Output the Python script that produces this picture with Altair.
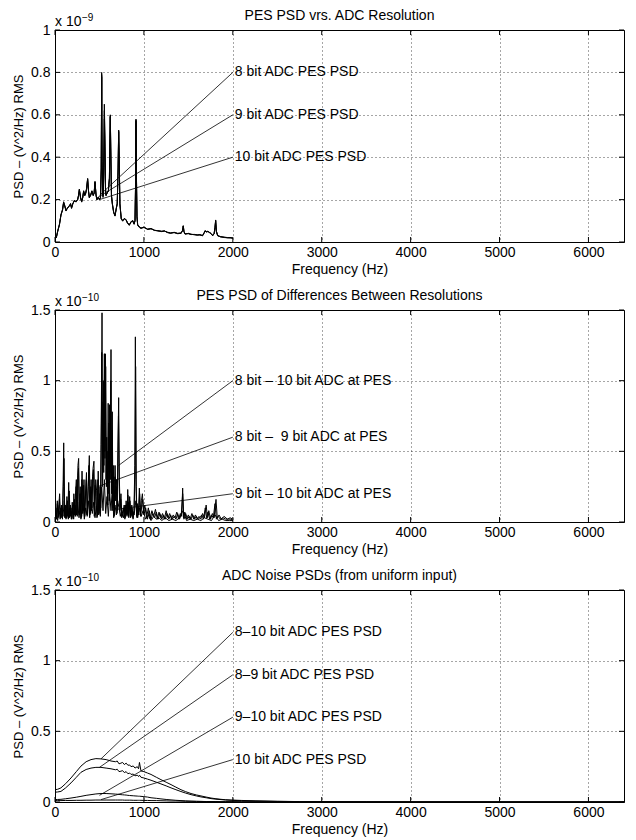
import altair as alt
import pandas as pd

FONT = "Liberation Sans"
FS = 14
W, H = 569, 212

# ---------------- Panel 1 : PES PSD vs ADC resolution (x 1e-9) ----------------
P1_FREQ = [
    0, 15, 30, 50, 67, 85, 97, 110, 124, 140,
    161, 175, 186, 200, 217, 235, 255, 265, 274, 287,
    300, 312, 322, 335, 345, 355, 367, 377, 386, 400,
    415, 430, 440, 450, 462, 472, 485, 500, 512, 520,
    525, 530, 540, 548, 555, 562, 568, 574, 585, 600,
    612, 618, 622, 627, 635, 645, 660, 675, 690, 700,
    710, 716, 722, 730, 745, 761, 780, 799, 815, 836,
    855, 874, 890, 900, 907, 911, 915, 922, 930, 950,
    967, 1000, 1042, 1080, 1120, 1155, 1200, 1230, 1267, 1300,
    1340, 1380, 1420, 1435, 1443, 1450, 1462, 1500, 1530, 1567,
    1600, 1630, 1660, 1680, 1687, 1700, 1720, 1736, 1755, 1773,
    1790, 1800, 1807, 1815, 1830, 1860, 1905, 1940, 1980, 2000]
P1_8BIT = [
    .030, .020, .050, .080, .130, .150, .190, .170, .148, .160,
    .170, .180, .160, .180, .195, .190, .200, .220, .250, .210,
    .190, .210, .240, .220, .230, .250, .300, .240, .210, .220,
    .240, .220, .230, .286, .220, .200, .210, .200, .210, .350,
    .800, .350, .210, .300, .580, .400, .240, .220, .230, .240,
    .300, .500, .600, .450, .220, .180, .140, .124, .160, .180,
    .350, .528, .400, .180, .110, .100, .110, .105, .090, .080,
    .095, .100, .085, .100, .300, .580, .350, .120, .080, .070,
    .065, .070, .060, .063, .055, .053, .050, .052, .045, .042,
    .045, .040, .042, .055, .077, .050, .038, .040, .036, .035,
    .033, .034, .030, .045, .053, .048, .050, .045, .040, .030,
    .040, .070, .104, .050, .030, .025, .022, .020, .020, .018]
P1_9BIT = [
    .032, .022, .048, .085, .125, .155, .185, .172, .150, .158,
    .172, .178, .162, .182, .192, .192, .198, .222, .245, .212,
    .192, .208, .238, .222, .228, .248, .295, .242, .212, .218,
    .238, .222, .228, .280, .222, .202, .208, .202, .212, .340,
    .780, .380, .220, .350, .650, .500, .260, .222, .228, .242,
    .300, .490, .590, .440, .222, .182, .142, .126, .158, .182,
    .340, .520, .390, .182, .112, .102, .108, .106, .092, .082,
    .093, .102, .087, .100, .290, .570, .340, .122, .082, .072,
    .066, .068, .061, .062, .056, .052, .051, .051, .046, .043,
    .044, .041, .043, .054, .075, .051, .039, .039, .037, .034,
    .034, .033, .031, .044, .052, .047, .049, .046, .039, .031,
    .041, .068, .100, .051, .031, .024, .023, .021, .019, .018]
P1_10BIT = [
    .028, .021, .052, .082, .128, .152, .188, .168, .146, .162,
    .168, .182, .158, .178, .197, .188, .202, .218, .248, .208,
    .188, .212, .242, .218, .232, .252, .298, .238, .208, .222,
    .242, .218, .232, .284, .218, .198, .212, .198, .208, .345,
    .790, .360, .215, .320, .620, .450, .250, .218, .232, .238,
    .302, .495, .595, .445, .218, .178, .138, .122, .162, .178,
    .345, .525, .395, .178, .108, .098, .112, .104, .088, .078,
    .097, .098, .083, .102, .295, .575, .345, .118, .078, .068,
    .064, .071, .059, .064, .054, .054, .049, .053, .044, .041,
    .046, .039, .041, .056, .076, .049, .037, .041, .035, .036,
    .032, .035, .029, .046, .054, .049, .051, .044, .041, .029,
    .039, .069, .102, .049, .029, .026, .021, .020, .021, .017]
P1_LABELS = ["8 bit ADC PES PSD", "9 bit ADC PES PSD", "10 bit ADC PES PSD"]
P1_LABEL_V = [0.8, 0.6, 0.4]
P1_PTR_F = [500, 480, 500]
P1_PTR_V = [0.22, 0.21, 0.20]
P1_YTICKS = [0, 0.2, 0.4, 0.6, 0.8, 1]

# ---------------- Panel 2 : differences between resolutions (x 1e-10) ----------------
P2A_FREQ = [
    0, 8, 16, 26, 34, 44, 52, 62, 72, 84,
    92, 98, 106, 116, 124, 134, 144, 154, 164, 174,
    184, 194, 204, 212, 222, 232, 240, 250, 258, 266,
    274, 284, 294, 304, 316, 326, 334, 344, 354, 364,
    374, 386, 396, 406, 416, 428, 438, 448, 458, 468,
    478, 486, 496, 506, 514, 522, 529, 536, 544, 550,
    556, 562, 568, 574, 582, 590, 598, 606, 612, 618,
    624, 630, 636, 644, 652, 660, 668, 676, 684, 692,
    700, 708, 716, 724, 732, 742, 752, 765, 778, 790,
    800, 812, 818, 828, 840, 852, 864, 876, 888, 898,
    904, 911, 918, 928, 938, 949, 960, 972, 983, 996,
    1010, 1030, 1050, 1070, 1090, 1110, 1130, 1150, 1170, 1190,
    1210, 1230, 1250, 1270, 1290, 1310, 1330, 1350, 1370, 1390,
    1410, 1425, 1436, 1445, 1460, 1480, 1500, 1520, 1540, 1560,
    1580, 1600, 1620, 1640, 1660, 1680, 1700, 1715, 1730, 1750,
    1770, 1790, 1800, 1811, 1825, 1845, 1870, 1900, 1940, 1970, 2000]
P2A_VAL = [
    .05, .13, .02, .15, .03, .12, .20, .03, .12, .02,
    .30, .56, .04, .12, .02, .18, .04, .28, .03, .12,
    .02, .14, .03, .20, .05, .22, .30, .04, .40, .45,
    .06, .25, .03, .36, .08, .30, .04, .20, .35, .05,
    .25, .47, .06, .30, .10, .38, .43, .05, .30, .22,
    .04, .36, .06, .25, .10, .70, 1.48, .30, 1.0, .40,
    1.19, .50, 1.19, .30, .60, .15, .84, .20, .83, .35,
    .60, 1.22, .25, .78, .10, .40, .05, .40, .20, .30,
    .08, .50, .88, .30, .10, .20, .04, .06, .12, .03,
    .15, .06, .23, .04, .18, .05, .12, .03, .08, .40,
    1.31, .30, .04, .13, .06, .24, .05, .15, .20, .06,
    .12, .03, .10, .02, .08, .04, .09, .02, .07, .03,
    .06, .02, .08, .03, .06, .02, .05, .03, .07, .02,
    .06, .04, .24, .03, .07, .02, .05, .02, .06, .02,
    .05, .02, .04, .02, .06, .03, .12, .03, .08, .02,
    .06, .03, .10, .16, .03, .05, .02, .04, .02, .03, .02]
P2B_FREQ = [
    0, 10, 20, 30, 40, 50, 58, 66, 76, 86,
    94, 101, 110, 120, 130, 140, 150, 160, 170, 180,
    190, 200, 210, 220, 230, 238, 246, 256, 264, 272,
    282, 292, 302, 312, 322, 332, 342, 352, 362, 372,
    382, 392, 402, 412, 422, 432, 442, 452, 462, 472,
    482, 492, 502, 510, 518, 526, 532, 540, 548, 556,
    562, 570, 578, 586, 594, 602, 610, 616, 622, 628,
    634, 642, 650, 658, 666, 674, 682, 690, 698, 706,
    714, 722, 730, 740, 750, 762, 774, 786, 798, 810,
    820, 830, 842, 854, 866, 878, 890, 900, 907, 914,
    922, 932, 942, 952, 964, 976, 988, 1000, 1020, 1040,
    1060, 1080, 1100, 1120, 1140, 1160, 1180, 1200, 1220, 1240,
    1260, 1280, 1300, 1320, 1340, 1360, 1380, 1400, 1420, 1436,
    1450, 1470, 1490, 1510, 1530, 1550, 1570, 1590, 1610, 1630,
    1650, 1670, 1690, 1705, 1720, 1740, 1760, 1780, 1800, 1815,
    1835, 1860, 1890, 1920, 1950, 1980, 2000]
P2B_VAL = [
    .03, .10, .02, .12, .04, .16, .02, .10, .03, .08,
    .25, .45, .03, .10, .03, .15, .03, .22, .04, .10,
    .02, .12, .04, .16, .04, .25, .05, .33, .38, .05,
    .20, .02, .30, .06, .26, .03, .18, .30, .04, .22,
    .40, .05, .25, .08, .32, .37, .04, .26, .18, .03,
    .30, .05, .20, .08, .55, 1.20, .25, .85, .35, 1.19,
    .45, 1.10, .25, .50, .12, .70, .15, .70, .30, 1.0,
    .20, .65, .08, .35, .04, .32, .15, .25, .06, .40,
    .75, .25, .08, .16, .03, .05, .10, .02, .12, .05,
    .19, .03, .15, .04, .10, .02, .07, .35, 1.10, .25,
    .03, .11, .05, .20, .04, .12, .16, .05, .10, .02,
    .08, .02, .06, .03, .07, .02, .06, .02, .05, .02,
    .06, .02, .05, .02, .04, .02, .06, .02, .05, .20,
    .02, .06, .02, .04, .02, .05, .02, .04, .02, .03,
    .05, .02, .10, .03, .07, .02, .05, .03, .13, .02,
    .04, .02, .03, .02, .02, .02, .01]
P2C_FREQ = [
    0, 15, 30, 45, 60, 75, 90, 105, 120, 135,
    150, 165, 180, 195, 210, 225, 240, 255, 270, 285,
    300, 315, 330, 345, 360, 375, 390, 405, 420, 435,
    450, 465, 480, 495, 510, 525, 540, 555, 570, 585,
    600, 615, 630, 645, 660, 675, 690, 705, 720, 735,
    750, 770, 790, 810, 830, 850, 870, 890, 910, 930,
    950, 970, 990, 1020, 1050, 1080, 1110, 1140, 1170, 1200,
    1240, 1280, 1320, 1360, 1400, 1440, 1480, 1520, 1560, 1600,
    1640, 1680, 1720, 1760, 1800, 1840, 1880, 1920, 1960, 2000]
P2C_VAL = [
    .02, .06, .01, .08, .03, .10, .04, .15, .03, .09,
    .02, .10, .04, .08, .02, .12, .05, .14, .03, .10,
    .04, .13, .02, .10, .05, .15, .03, .12, .06, .14,
    .03, .11, .05, .16, .04, .25, .08, .30, .06, .18,
    .04, .20, .08, .25, .03, .12, .05, .15, .10, .04,
    .10, .03, .12, .04, .14, .03, .08, .05, .15, .03,
    .10, .04, .08, .02, .05, .01, .04, .02, .03, .01,
    .03, .01, .02, .01, .03, .08, .01, .02, .01, .02,
    .01, .03, .02, .01, .05, .01, .02, .01, .01, .01]
P2_LABELS = ["8 bit \u2013 10 bit ADC at PES", "8 bit \u2013\u00a0 9 bit ADC at PES",
             "9 bit \u2013 10 bit ADC at PES"]
P2_LABEL_V = [1.0, 0.6, 0.2]
P2_PTR_F = [715, 480, 700]
P2_PTR_V = [0.40, 0.25, 0.09]
P2_YTICKS = [0, 0.5, 1, 1.5]

# ---------------- Panel 3 : ADC noise PSDs (x 1e-10) ----------------
P3_FREQ = [
    0, 30, 67, 120, 180, 240, 292, 350, 405, 460,
    517, 575, 630, 680, 700, 720, 742, 760, 780, 800,
    820, 840, 855, 880, 900, 925, 940, 950, 967, 1000,
    1040, 1080, 1140, 1192, 1250, 1305, 1360, 1417, 1470, 1530,
    1590, 1642, 1700, 1755, 1810, 1867, 1920, 1980, 2100, 2250,
    2500, 2750, 3000, 3500, 4000, 5000, 6400]
P3_8_10 = [
    .087, .090, .100, .130, .170, .215, .254, .285, .300, .307,
    .305, .300, .290, .285, .290, .270, .275, .280, .265, .275,
    .260, .262, .250, .255, .240, .250, .235, .280, .220, .215,
    .205, .195, .175, .158, .140, .123, .105, .087, .073, .060,
    .050, .043, .035, .028, .023, .019, .016, .014, .011, .008,
    .005, .003, .002, .001, .0005, .0003, .0002]
P3_8_9 = [
    .069, .071, .075, .100, .135, .175, .210, .230, .240, .245,
    .245, .240, .235, .228, .232, .215, .218, .222, .208, .215,
    .200, .205, .195, .198, .185, .190, .180, .190, .175, .170,
    .162, .154, .140, .128, .114, .100, .087, .074, .063, .052,
    .043, .036, .030, .024, .020, .017, .014, .012, .009, .007,
    .004, .003, .002, .001, .0005, .0003, .0002]
P3_9_10 = [
    .017, .018, .019, .023, .028, .034, .040, .047, .052, .057,
    .060, .060, .058, .056, .055, .054, .052, .051, .050, .049,
    .047, .046, .045, .044, .043, .042, .041, .041, .040, .038,
    .035, .030, .026, .022, .018, .015, .012, .010, .008, .006,
    .005, .004, .0035, .003, .0025, .002, .0018, .0015, .001, .0008,
    .0005, .0003, .0002, .0001, .0001, 0, 0]
P3_10 = [
    .010, .010, .010, .011, .011, .012, .012, .013, .013, .014,
    .014, .014, .014, .014, .014, .014, .014, .014, .013, .013,
    .013, .013, .013, .012, .012, .012, .012, .012, .012, .011,
    .011, .010, .010, .009, .008, .007, .007, .006, .005, .005,
    .004, .004, .003, .003, .003, .002, .002, .002, .001, .001,
    .001, .0005, .0003, .0002, .0001, 0, 0]
P3_LABELS = ["8\u201310 bit ADC PES PSD", "8\u20139 bit ADC PES PSD",
             "9\u201310 bit ADC PES PSD", "10 bit ADC PES PSD"]
P3_LABEL_V = [1.2, 0.9, 0.6, 0.3]
P3_PTR_F = [517, 500, 500, 517]
P3_PTR_V = [0.305, 0.245, 0.047, 0.017]
P3_YTICKS = [0, 0.5, 1, 1.5]

X_TICKS = [0, 1000, 2000, 3000, 4000, 5000, 6000]
LABEL_F = 2000
X_TITLE = "Frequency (Hz)"
Y_TITLE = "PSD \u2013 (V^2/Hz) RMS"


def panel(curves, title, ymax, yticks, exponent, labels, label_v, ptr_f, ptr_v):
    df = pd.concat([pd.DataFrame({"f": f, "v": v, "s": name}) for name, f, v in curves])
    xs = alt.Scale(domain=[0, 6400], nice=False, zero=False)
    ys = alt.Scale(domain=[0, ymax], nice=False, zero=False)
    # identical axis definitions in every layer so that they merge into one axis
    xa = alt.Axis(values=X_TICKS, format="d", title=X_TITLE, grid=True, ticks=False,
                  domain=False, labelFlush=False, labelPadding=3, titlePadding=3)
    ya = alt.Axis(values=yticks, format="~g", title=Y_TITLE, grid=True, ticks=False,
                  domain=False, labelPadding=5, titlePadding=5, titleFontSize=13)

    def X(field):
        return alt.X(field, scale=xs, axis=xa, title=X_TITLE)

    def Y(field):
        return alt.Y(field, scale=ys, axis=ya, title=Y_TITLE)

    lines = alt.Chart(df).mark_line(color="black", strokeWidth=1, clip=True).encode(
        x=X("f:Q"), y=Y("v:Q"), detail="s:N")

    ann = pd.DataFrame({"label": labels, "lv": label_v, "lf": [LABEL_F] * len(labels),
                        "pf": ptr_f, "pv": ptr_v})
    ptr = alt.Chart(ann).mark_rule(color="black", strokeWidth=0.8).encode(
        x=X("pf:Q"), y=Y("pv:Q"), x2="lf:Q", y2="lv:Q")
    txt = alt.Chart(ann).mark_text(align="left", baseline="middle", dx=2, font=FONT,
                                   fontSize=FS, color="black").encode(
        x=X("lf:Q"), y=Y("lv:Q"), text="label:N")

    xt = pd.DataFrame({"t": X_TICKS})
    yt = pd.DataFrame({"t": yticks})
    tb = alt.Chart(xt).mark_rule(color="black").encode(
        x=X("t:Q"), y=alt.value(H), y2=alt.value(H - 5))
    tt = alt.Chart(xt).mark_rule(color="black").encode(
        x=X("t:Q"), y=alt.value(0), y2=alt.value(5))
    tl = alt.Chart(yt).mark_rule(color="black").encode(
        y=Y("t:Q"), x=alt.value(0), x2=alt.value(5))
    tr = alt.Chart(yt).mark_rule(color="black").encode(
        y=Y("t:Q"), x=alt.value(W), x2=alt.value(W - 5))

    one = pd.DataFrame({"title": [title], "base": ["x 10"], "exp": [exponent]})
    ttl = alt.Chart(one).mark_text(align="center", baseline="middle", font=FONT,
                                   fontSize=FS, color="black").encode(
        x=alt.value(W / 2), y=alt.value(-14), text="title:N")
    mult = alt.Chart(one).mark_text(align="left", baseline="alphabetic", font=FONT,
                                    fontSize=FS, color="black").encode(
        x=alt.value(0), y=alt.value(-4), text="base:N")
    sup = alt.Chart(one).mark_text(align="left", baseline="alphabetic", font=FONT,
                                   fontSize=10, color="black").encode(
        x=alt.value(27), y=alt.value(-9), text="exp:N")

    return alt.layer(lines, ptr, txt, tb, tt, tl, tr, ttl, mult, sup).properties(
        width=W, height=H)


p1 = panel([("8 bit", P1_FREQ, P1_8BIT), ("9 bit", P1_FREQ, P1_9BIT),
            ("10 bit", P1_FREQ, P1_10BIT)],
           "PES PSD vrs. ADC Resolution", 1, P1_YTICKS, "\u22129",
           P1_LABELS, P1_LABEL_V, P1_PTR_F, P1_PTR_V)
p2 = panel([("8-10", P2A_FREQ, P2A_VAL), ("8-9", P2B_FREQ, P2B_VAL),
            ("9-10", P2C_FREQ, P2C_VAL)],
           "PES PSD of Differences Between Resolutions", 1.5, P2_YTICKS, "\u221210",
           P2_LABELS, P2_LABEL_V, P2_PTR_F, P2_PTR_V)
p3 = panel([("8-10", P3_FREQ, P3_8_10), ("8-9", P3_FREQ, P3_8_9),
            ("9-10", P3_FREQ, P3_9_10), ("10", P3_FREQ, P3_10)],
           "ADC Noise PSDs (from uniform input)", 1.5, P3_YTICKS, "\u221210",
           P3_LABELS, P3_LABEL_V, P3_PTR_F, P3_PTR_V)

chart = alt.vconcat(p1, p2, p3, spacing=68, bounds="flush").properties(
    padding={"left": 4, "top": 0, "right": 0, "bottom": 0}
).configure_view(
    stroke="black", strokeWidth=1
).configure_axis(
    labelFont=FONT, titleFont=FONT, labelFontSize=FS, titleFontSize=FS,
    titleFontWeight="normal", labelColor="black", titleColor="black",
    gridColor="black", gridDash=[1, 3], gridOpacity=0.7, gridWidth=1,
)

chart.save("out.html", embed_options={"renderer": "svg", "actions": False})
